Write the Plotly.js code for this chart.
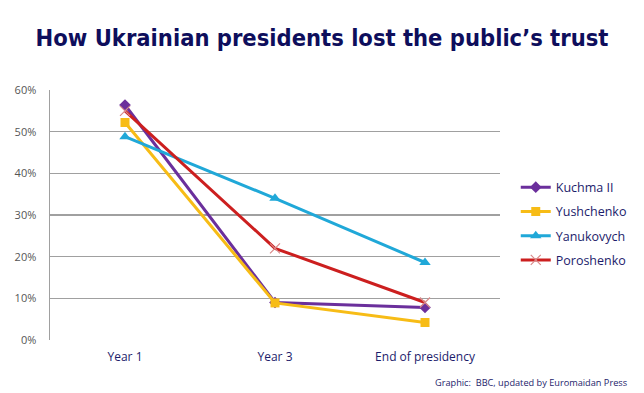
<!DOCTYPE html>
<html><head><meta charset="utf-8">
<script src="https://cdn.plot.ly/plotly-3.0.1.min.js"></script>
<style>html,body{margin:0;padding:0;background:#fff;}#chart{width:644px;height:393px;}</style>
</head><body><div id="chart"></div>
<script>
const categories = ["Year 1", "Year 3", "End of presidency"];
const kuchma = [0.564, 0.090, 0.078];
const yushchenko = [0.522, 0.089, 0.042];
const yanukovych = [0.488, 0.340, 0.186];
const poroshenko = [0.550, 0.220, 0.090];
const seriesNames = ["Kuchma II", "Yushchenko", "Yanukovych", "Poroshenko"];
const yTicks = [0, 0.1, 0.2, 0.3, 0.4, 0.5, 0.6];
const yTickLabels = ["0%", "10%", "20%", "30%", "40%", "50%", "60%"];

const navy = "#1c1c6b";
const traces = [
  {y: kuchma, name: seriesNames[0], line: {color: "#6b2f9c", width: 3}, marker: {symbol: "diamond", size: 9, color: "#6b2f9c"}},
  {y: yushchenko, name: seriesNames[1], line: {color: "#f7bc16", width: 3}, marker: {symbol: "square", size: 9, color: "#f7bc16"}},
  {y: yanukovych, name: seriesNames[2], line: {color: "#20a8d8", width: 3}, marker: {symbol: "triangle-up", size: 10, color: "#20a8d8"}},
  {y: poroshenko, name: seriesNames[3], line: {color: "#cc1f1f", width: 3}, marker: {symbol: "x-thin", size: 10, color: "#d98a8a", line: {width: 1.2, color: "#d98a8a"}}}
].map((t, i) => Object.assign({x: categories, type: "scatter", mode: "lines+markers", legendgroup: "g" + i}, t));

const layout = {
  width: 644, height: 393,
  paper_bgcolor: "#fff", plot_bgcolor: "#fff",
  margin: {l: 50, r: 139, t: 90, b: 53},
  title: {text: "How Ukrainian presidents lost the public\u2019s trust", x: 0.5, xanchor: "center", y: 0.905, yanchor: "middle",
          font: {family: "DejaVu Sans Condensed, Open Sans, sans-serif", size: 23.5, color: "#0e0e5c", weight: "bold"}},
  xaxis: {type: "category", range: [-0.5, 2.5], showgrid: false, showline: false, zeroline: false, ticks: "",
          ticklabelstandoff: 8,
          tickfont: {family: "Open Sans, sans-serif", size: 12, color: navy}, fixedrange: true},
  yaxis: {range: [0, 0.6], tickvals: yTicks, ticktext: yTickLabels, showgrid: true, gridcolor: "#a0a0a0", gridwidth: 1.5,
          showline: true, linecolor: "#a0a0a0", linewidth: 1.5, zeroline: false, ticks: "", ticklen: 0,
          ticklabelstandoff: 10,
          tickfont: {family: "Open Sans, sans-serif", size: 11, color: "#555"}, fixedrange: true},
  showlegend: true,
  legend: {x: 1.035, xanchor: "left", y: 0.466, yanchor: "middle", tracegroupgap: 5,
           font: {family: "Open Sans, sans-serif", size: 12.5, color: navy}, bgcolor: "rgba(0,0,0,0)"},
  annotations: [{text: "Graphic:  BBC, updated by Euromaidan Press", xref: "paper", yref: "paper", x: 1.287, xanchor: "right",
                 y: -0.168, yanchor: "middle", showarrow: false, font: {family: "Open Sans, sans-serif", size: 9.2, color: navy}}]
};
Plotly.newPlot("chart", traces, layout, {displayModeBar: false, staticPlot: true});
</script></body></html>
